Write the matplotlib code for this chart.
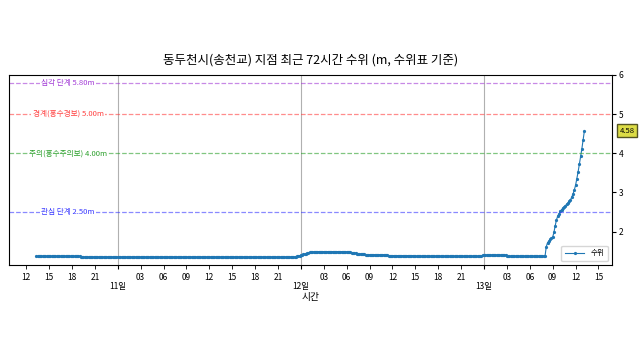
import matplotlib
matplotlib.use("Agg")
import matplotlib.pyplot as plt
import matplotlib.dates as mdates
import numpy as np
import pandas as pd

plt.rcParams['font.family'] = ['Noto Sans CJK KR', 'DejaVu Sans']
plt.rcParams['axes.unicode_minus'] = False

# ---- data (10-minute readings, 10th 13:20 -> 13th 13:10) ----
start_time = "2023-07-10 13:20"
# run-length segments of constant readings (value, count)
segments = [
    ([1.37], 35),
    ([1.35], 169),
    ([1.36, 1.37, 1.38, 1.39, 1.40, 1.41, 1.42, 1.43, 1.44, 1.45, 1.46,
      1.47, 1.47, 1.48, 1.48, 1.49, 1.49], 1),
    ([1.49], 23),
    ([1.48, 1.48, 1.47, 1.47, 1.46, 1.46, 1.45, 1.45, 1.44, 1.44, 1.43,
      1.43, 1.42, 1.42, 1.42], 1),
    ([1.41], 18),
    ([1.39], 20),
    ([1.37], 54),
    ([1.40], 19),
    ([1.37], 31),
    ([1.62, 1.72, 1.76, 1.80, 1.83, 1.86, 1.98, 2.15, 2.30, 2.40, 2.46,
      2.52, 2.56, 2.60, 2.63, 2.66, 2.70, 2.73, 2.77, 2.81, 2.88, 2.96,
      3.06, 3.18, 3.35, 3.52, 3.72, 3.92, 4.12, 4.35, 4.58], 1),
]
levels = []
for vals, n in segments:
    levels.extend(vals * n)
times = pd.date_range(start_time, periods=len(levels), freq="10min")

threshold_values = [5.8, 5.0, 4.0, 2.5]
threshold_labels = ["심각 단계 5.80m", "경계(홍수경보) 5.00m",
                    "주의(홍수주의보) 4.00m", "관심 단계 2.50m"]
threshold_colors = ["#a23bd6", "#ff4040", "#2ca02c", "#3a3aff"]

title = "동두천시(송천교) 지점 최근 72시간 수위 (m, 수위표 기준)"

# ---- plot ----
fig = plt.figure(figsize=(6.4, 3.6), dpi=100)
ax = fig.add_axes([0.014, 0.264, 0.942, 0.528])

ax.plot(times, levels, color="#1f77b4", lw=0.8, marker="o", ms=1.3,
        label="수위")

for v, lab, c in zip(threshold_values, threshold_labels, threshold_colors):
    ax.axhline(v, color=c, ls="--", lw=0.9, alpha=0.6)
    ax.text(0.098, v, lab, transform=ax.get_yaxis_transform(),
            color=c, fontsize=5.5, ha="center", va="center",
            bbox=dict(facecolor="white", edgecolor="none", pad=1.0))

ax.set_ylim(min(levels) - 0.2, 6)
ax.yaxis.tick_right()
ax.tick_params(axis="y", labelsize=6, length=3, pad=2)

ax.xaxis.set_major_locator(mdates.DayLocator())
ax.xaxis.set_major_formatter(mdates.DateFormatter("%d일"))
ax.xaxis.set_minor_locator(mdates.HourLocator(byhour=range(3, 24, 3)))
ax.xaxis.set_minor_formatter(mdates.DateFormatter("%H"))
ax.tick_params(axis="x", which="minor", labelsize=6, length=3, pad=3)
ax.tick_params(axis="x", which="major", labelsize=6, length=3, pad=9)
ax.grid(True, which="major", axis="x", color="#b0b0b0", lw=0.8)

ax.set_xlabel("시간", fontsize=7, labelpad=1)
ax.set_title(title, fontsize=9, pad=8)

ax.legend(loc="lower right", fontsize=5.5, handlelength=2.5, borderpad=0.5)

last = levels[-1]
ax.text(1.025, last, f"{last:.2f}", transform=ax.get_yaxis_transform(),
        fontsize=5.5, ha="center", va="center", clip_on=False,
        bbox=dict(facecolor="#dcdc46", edgecolor="#555522", pad=1.8, lw=1))

fig.savefig("out.png", dpi=100)
